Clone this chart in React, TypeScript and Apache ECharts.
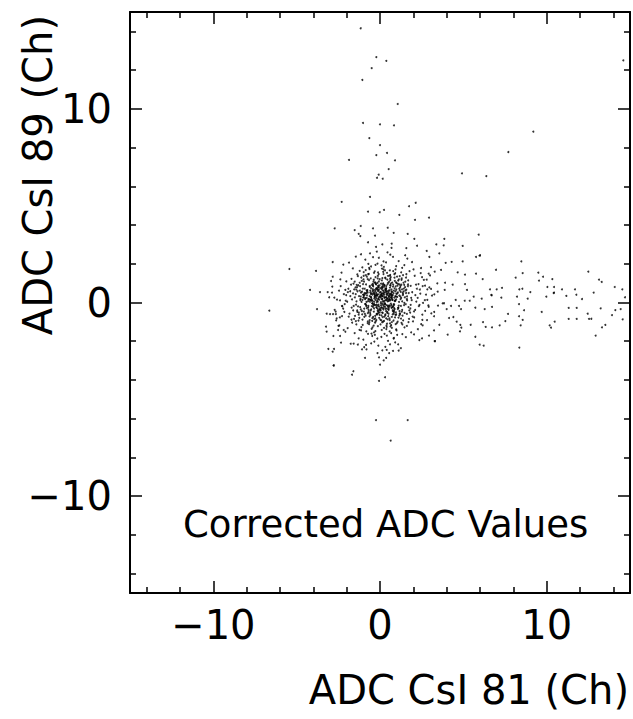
import React, { useEffect, useRef } from "react";
import * as echarts from "echarts";

const X_MAJOR = [-10, 0, 10];
const X_MINOR = [-14, -12, -8, -6, -4, -2, 2, 4, 6, 8, 12, 14];
const Y_MAJOR = [-10, 0, 10];
const Y_MINOR = [-14, -12, -8, -6, -4, -2, 2, 4, 6, 8, 12, 14];

const X_TITLE = "ADC CsI 81 (Ch)";
const Y_TITLE = "ADC CsI 89 (Ch)";
const NOTE = "Corrected ADC Values";

// dense core of events around the pedestal
const corePoints: [number, number][] = [
  [0.12,0.35],[-0.48,0.91],[0.77,-0.22],[-1.05,0.14],[0.31,1.28],[-0.19,-0.63],[1.42,0.57],[-0.66,-1.12],[0.05,0.02],[0.88,0.73],
  [-1.37,-0.41],[0.24,-0.95],[0.59,1.66],[-0.83,0.48],[1.11,-0.78],[-0.07,0.67],[0.43,0.21],[-1.74,0.92],[0.96,1.04],[-0.28,-1.48],
  [0.18,-0.12],[-0.55,0.29],[1.63,0.11],[-0.94,-0.74],[0.37,0.84],[-0.12,1.55],[0.71,-1.31],[-1.21,0.61],[0.02,-0.37],[1.29,1.17],
  [-0.36,0.04],[0.64,0.46],[-1.58,-0.18],[0.27,-1.62],[0.92,0.33],[-0.74,1.21],[2.04,-0.46],[-0.03,0.88],[0.51,-0.58],[-0.98,0.27],
  [0.33,0.64],[-0.21,-0.27],[1.08,0.96],[-1.46,0.43],[0.68,-0.13],[-0.62,-0.91],[0.09,1.92],[1.74,-0.85],[-0.44,0.58],[0.46,0.06],
  [-0.89,-0.08],[0.15,0.76],[0.83,-0.49],[-0.31,1.03],[1.37,0.38],[-1.12,-1.27],[0.58,1.39],[-0.05,-0.79],[2.21,0.71],[-0.67,0.19],
  [0.41,-0.31],[-1.83,-0.57],[0.22,0.49],[1.01,-1.06],[-0.41,0.83],[0.74,0.14],[-0.16,-1.86],[1.56,1.29],[-0.78,0.37],[0.07,0.41],
  [-0.24,0.72],[0.86,0.25],[-1.02,0.95],[0.49,-0.71],[1.25,-0.18],[-0.57,-0.42],[0.11,1.14],[-2.06,0.09],[0.63,0.87],[-0.13,-0.16],
  [0.97,-0.62],[-0.71,1.46],[0.28,-0.04],[1.53,0.62],[-1.29,-0.93],[0.55,0.32],[-0.38,-1.19],[0.04,0.55],[1.87,0.24],[-0.92,0.71],
  [0.21,1.71],[-0.47,-0.05],[0.69,0.67],[-1.16,0.31],[1.18,1.36],[-0.02,-0.51],[0.38,-1.37],[-0.79,-0.29],[2.37,-0.12],[0.14,0.18],
  [-0.58,0.52],[0.81,-0.93],[-0.27,1.31],[1.33,-0.38],[-1.41,0.06],[0.45,0.94],[-0.09,0.23],[0.73,-0.24],[-1.67,-1.04],[0.32,-0.66],
  [1.04,0.47],[-0.35,-0.86],[0.17,0.63],[-0.86,1.67],[1.61,-0.59],[-0.18,0.38],[0.54,1.07],[-1.27,-0.52],[0.92,0.09],[-0.51,-1.61],
  [0.06,0.97],[1.21,0.78],[-0.69,0.16],[0.36,-0.44],[-1.93,0.54],[0.67,-1.17],[-0.23,0.49],[1.46,-0.02],[-0.96,1.08],[0.27,0.28],
  [-0.14,-0.33],[0.61,1.23],[-1.07,-0.61],[0.93,0.58],[-0.46,0.11],[1.72,0.49],[0.13,-1.02],[-0.61,0.86],[0.47,-0.17],[-1.33,1.36],
  [0.85,-0.29],[-0.08,1.47],[1.14,0.03],[-0.73,-0.97],[0.26,0.41],[-1.51,0.26],[0.78,0.82],[-0.29,-0.69],[1.96,-0.73],[0.01,0.31],
  [-0.43,0.97],[0.39,0.13],[-1.19,-0.24],[1.28,0.92],[-0.65,1.79],[0.52,-0.38],[-0.17,0.09],[0.99,-1.44],[-0.83,-0.14],[0.19,1.58],
  [1.49,0.27],[-0.26,-0.98],[0.72,0.54],[-1.38,0.79],[0.08,-0.25],[0.91,1.51],[-0.53,-0.36],[1.16,-0.67],[-0.99,0.39],[0.34,0.71],
  [-0.04,0.15],[0.57,-0.82],[-0.76,0.64],[1.41,1.02],[-1.24,-0.79],[0.29,0.52],[-0.37,1.18],[0.66,0.26],[-2.21,-0.32],[0.82,-0.08],
  [0.16,-0.54],[-0.62,0.33],[1.09,-0.27],[-0.11,0.81],[0.48,1.37],[-0.97,-0.47],[1.67,0.84],[0.23,-0.19],[-0.45,-1.28],[0.76,0.39],
  [-1.09,1.12],[0.42,-1.09],[-0.33,0.45],[1.23,0.17],[-0.7,-0.18],[0.1,0.69],[0.95,-0.51],[-1.55,0.68],[0.61,1.42],[-0.2,-0.59],
  [0.35,0.12],[-0.86,-0.68],[1.32,0.68],[-0.15,1.01],[0.71,-0.74],[-1.44,-0.11],[0.47,0.46],[-0.54,0.74],[1.82,-0.31],[0.03,-1.13],
  [-0.31,0.28],[0.89,1.12],[-1.01,0.41],[0.2,-0.36],[1.06,-0.99],[-0.67,1.48],[0.56,0.18],[-0.1,-0.45],[1.38,0.44],[-1.78,0.33],
  [0.65,-0.06],[-0.4,0.62],[0.14,1.26],[1.17,-0.44],[-0.88,0.22],[0.37,-0.82],[-0.25,0.96],[0.83,0.61],[-1.23,-1.41],[0.5,0.35],
  [-0.06,-0.21],[1.03,0.29],[-0.59,-0.55],[0.25,0.91],[-1.31,0.89],[0.76,-0.61],[-0.19,0.34],[1.52,1.08],[-0.81,0.03],[0.4,-1.26],
  [0.94,0.83],[-0.52,0.18],[0.09,-0.67],[-1.12,1.29],[0.68,0.24],[-0.34,-0.13],[1.26,-0.83],[-0.74,0.51],[0.3,1.66],[1.9,0.12],
  [-0.28,-0.82],[0.51,0.53],[-0.95,-0.32],[1.15,0.71],[-0.08,0.42],[0.63,-1.23],[-1.62,0.47],[0.17,0.07],[0.87,1.28],[-0.42,-0.23],
  [0.27,0.89],[-0.77,0.57],[1.44,-0.14],[-0.16,-0.57],[0.59,0.38],[-1.05,-0.88],[0.98,0.44],[-0.32,1.61],[0.12,-0.28],[-1.68,0.16],
  [0.73,1.03],[-0.23,0.22],[1.19,-0.56],[-0.64,-1.02],[0.35,0.73],[-0.02,1.21],[0.8,-0.18],[-1.35,0.58],[1.58,0.66],[-0.49,0.08],
  [0.04,-0.41],[-0.84,0.93],[0.46,0.19],[1.35,-0.68],[-0.41,-0.74],[0.21,1.47],[-1.18,0.12],[0.9,0.11],[-0.12,0.59],[0.58,-0.91],
  [-0.69,-0.38],[1.13,1.19],[0.31,-0.09],[-0.93,0.49],[0.7,0.56],[-0.3,-1.04],[1.71,-0.24],[-1.5,-0.69],[0.15,0.84],[0.44,-0.48],
  [-0.18,0.66],[0.97,0.16],[-0.56,1.25],[0.32,-0.61],[-1.26,0.33],[1.07,-0.34],[0.05,0.25],[-0.71,-0.26],[0.62,1.16],[1.45,0.91],
  [-0.37,-0.47],[0.18,0.44],[-1.47,0.78],[0.84,-0.42],[-0.13,1.37],[0.53,0.27],[-0.87,-0.07],[1.24,0.55],[0.02,-0.89],[-0.55,0.43],
  [0.69,0.32],[-0.09,-0.11],[1.02,1.34],[-1.15,-0.36],[0.39,-1.18],[-0.44,0.69],[1.61,0.18],[-0.27,0.13],[0.76,-0.39],[-0.99,1.19],
  [0.22,0.59],[-0.63,-0.72],[0.88,0.07],[-0.24,0.93],[1.31,-0.47],[-1.7,-0.26],[0.48,1.01],[-0.05,-0.38],[0.58,0.63],[-0.8,0.24],
  [1.16,0.36],[-0.39,1.09],[0.26,-0.73],[-1.03,0.72],[0.79,0.92],[-0.21,-0.24],[1.47,-0.54],[-0.6,0.14],[0.11,0.48],[0.94,-1.12],
  [-0.47,-0.95],[0.6,0.77],[-1.22,1.02],[0.03,0.36],[1.12,-0.16],[-0.35,0.51],[0.43,-0.53],[-0.91,-0.59],[1.68,0.93],[-0.14,1.24],
  [0.3,-0.23],[-0.72,0.07],[0.86,1.46],[-1.36,-0.48],[0.55,0.15],[-0.07,0.78],[1.27,0.24],[-0.5,-1.36],[0.17,0.93],[-1.08,0.56],
  [0.78,-0.46],[-0.29,0.37],[1.5,0.79],[-0.82,-0.19],[0.08,-0.92],[0.67,0.43],[-1.52,1.08],[0.4,-0.14],[-0.12,0.17],[1.0,1.0],
  [-0.62,0.81],[0.24,-1.31],[1.07,0.52],[-0.45,-0.04],[0.64,1.31],[-1.17,0.19],[0.35,0.26],[-0.03,-0.64],[1.39,-0.92],[-0.85,1.41],
  [0.49,0.08],[-0.17,0.42],[0.93,-0.64],[-1.28,-0.63],[0.19,0.99],[1.22,0.31],[-0.53,0.26],[0.71,-1.01],[-0.36,1.53],[0.06,-0.06],
  [1.54,-0.09],[-0.94,0.38],[0.37,0.71],[-0.22,-0.91],[0.81,0.48],[-1.61,-0.41],[0.12,0.32],[1.09,1.13],[-0.68,-0.49],[0.53,-0.27],
  [-0.11,0.87],[0.74,0.35],[-1.04,-1.16],[0.44,1.18],[1.33,0.06],[-0.58,0.61],[0.0,-0.3],[0.9,-0.77],[-1.4,0.91],[0.28,0.1],
  [-0.26,-0.14],[1.19,0.63],[-0.79,1.33],[0.59,-0.19],[-0.33,0.4],[1.76,-0.41],[0.16,-0.76],[-1.11,0.03],[0.65,0.98],[-0.46,-0.81],
  [0.38,0.53],[-0.9,0.17],[1.29,-1.05],[-0.07,1.09],[0.72,0.23],[-1.45,-0.96],[0.5,-0.34],[-0.19,0.76],[1.05,0.87],[2.12,0.38],
  [-0.52,0.47],[0.13,-0.52],[0.96,0.3],[-1.2,0.84],[0.42,1.53],[-0.36,-0.31],[1.36,0.51],[-0.74,-1.07],[0.23,0.04],[0.82,-0.58],
  [-0.01,0.52],[-1.32,-0.2],[0.61,0.9],[-0.58,-0.64],[1.1,-0.28],[0.33,1.24],[-0.87,0.46],[0.19,-0.99],[1.62,0.32],[-0.3,0.65],
  [0.55,-0.15],[-0.66,1.16],[1.23,0.86],[-0.14,-0.43],[0.4,0.39],[-1.09,-0.44],[0.85,-0.11],[-0.42,0.89],[0.1,-1.42],[1.43,0.72],
  [-0.8,0.63],[0.27,0.24],[-1.56,-0.85],[0.98,0.67],[-0.2,0.02],[0.6,-1.08],[-0.98,1.38],[0.36,0.6],[1.2,-0.6],[-0.4,-0.12],
  [0.11,0.79],[0.88,-0.34],[-0.61,0.04],[1.56,0.49],[-1.14,0.51],[0.46,-0.87],[-0.28,1.03],[0.75,0.13],[-0.09,-0.53],[1.3,1.24],
  [-0.73,-0.55],[0.32,0.68],[-1.0,0.27],[0.69,-0.28],[-0.32,0.3],[1.17,0.94],[0.06,-0.15],[-1.42,0.66],[0.57,0.45],[-0.13,-1.22],
  [1.84,-0.12],[-1.22,1.63],[0.67,-1.58],[-0.15,2.01],[1.38,1.41],[-1.88,-0.73],[2.26,0.24],[-0.47,-1.73],[0.93,1.71],[-1.59,0.97],
  [1.61,-1.21],[-0.82,-1.49],[0.23,1.84],[2.05,-0.77],[-1.36,1.45],[0.41,-1.71],[-2.03,0.38],[1.27,1.56],[-0.36,-1.54],[1.93,0.53],
  [-1.14,-1.44],[0.79,1.62],[-2.14,-0.49],[1.47,-1.28],[-0.63,1.72],[2.33,-0.19],[0.08,-1.78],[-1.71,1.22],[1.03,-1.67],[-0.27,1.94],
  [1.69,1.14],[-1.97,0.04],[0.58,-1.49],[-0.98,1.57],[2.42,0.46],[-1.42,-1.13],[0.36,2.07],[1.81,-0.52],[-0.72,-1.62],[0.12,1.75],
  [-1.79,0.58],[1.34,-1.13],[-0.31,-1.67],[2.16,0.92],[-1.06,1.81],[0.83,-1.83],[-2.28,-0.17],[1.58,1.46],[-0.54,1.86],[0.97,-1.39],
  [0.44,0.57],[-0.34,0.21],[0.21,-0.29],[-0.16,0.71],[0.63,0.14],[-0.49,-0.19],[0.08,0.43],[0.29,-0.08],[-0.24,0.36],[0.52,0.62],
  [-0.05,0.29],[0.37,0.27],[-0.41,0.47],[0.15,-0.05],[0.24,0.81],[-0.13,0.05],[0.49,-0.21],[-0.28,0.57],[0.11,0.18],[0.67,0.38],
  [-0.57,0.14],[0.33,-0.33],[-0.09,0.62],[0.58,0.09],[-0.36,-0.07],[0.04,0.74],[0.41,0.44],[-0.21,-0.11],[0.18,0.33],[-0.45,0.41],
];

// halo around the core
const ringPoints: [number, number][] = [
  [2.31,0.95],[-2.17,0.43],[1.87,-1.54],[-1.94,-1.32],[0.62,2.47],[-0.88,2.21],[2.54,-0.63],[-2.58,0.15],[1.46,1.93],[0.32,-2.29],
  [-1.63,1.76],[2.76,0.41],[-0.53,-2.11],[1.12,2.14],[-2.41,-0.77],[2.08,1.38],[0.91,-2.06],[-1.28,-1.85],[2.92,-0.22],[-0.19,2.63],
  [1.77,1.62],[-2.02,1.09],[2.47,-1.12],[-0.95,-2.31],[0.14,-2.47],[-2.72,-0.38],[1.55,-1.79],[2.18,0.05],[-1.86,2.06],[0.78,2.36],
  [-2.31,1.54],[2.63,1.17],[0.48,-1.98],[-1.52,-1.58],[1.98,-0.97],[-0.42,2.34],[2.39,0.67],[-2.86,0.82],[1.25,-2.36],[-1.0,-1.92],
  [2.11,-0.38],[-1.71,-0.89],[0.97,1.88],[-0.7,1.99],[2.82,-0.91],[-2.49,-1.21],[1.64,2.27],[0.21,2.12],[-1.45,2.37],[3.12,0.36],
  [2.01,1.71],[-2.12,-0.08],[1.34,-1.63],[-0.34,-2.02],[2.69,0.12],[-1.9,0.71],[0.55,-2.61],[1.84,0.86],[-2.65,-0.6],[2.27,-1.38],
  [-0.6,2.54],[1.09,-2.16],[2.44,1.52],[-3.05,0.27],[0.82,-1.86],[-1.33,-2.17],[3.25,-0.49],[-2.2,1.96],[1.71,-1.01],[0.45,2.59],
  [2.52,1.31],[-2.46,0.61],[1.12,-2.48],[-1.58,-2.12],[2.71,-0.43],[-0.15,-2.61],[1.92,2.09],[-2.63,-0.92],[0.69,2.82],[2.04,-1.65],
  [-2.38,1.19],[1.51,2.44],[-0.81,-2.42],[2.96,0.78],[-1.14,2.49],[0.37,-2.86],[2.58,-0.02],[-2.08,-1.51],[1.33,1.79],[-0.07,2.31],
];

// vertical streak and scattered upper events
const upperPoints: [number, number][] = [
  [-1.16,14.16],[-0.22,12.67],[0.38,12.48],[-0.5,12.1],[-1.06,11.49],[1.06,10.25],[-1.02,9.27],[0,9.2],[0.84,9.15],[-0.64,8.49],
  [0,8.13],[-0.22,7.61],[0.42,7.72],[-1.86,7.36],[0.9,7.34],[0.52,6.89],[-0.08,6.6],[-0.18,6.44],[0.16,6.39],[4.92,6.67],
  [6.38,6.53],[-0.6,5.45],[9.2,8.82],[7.7,7.77],[14.6,12.5],
  [-2.3,5.2],[1.74,4.97],[2.14,5.15],[-0.72,4.69],[-0.02,4.66],[0.24,4.78],[1.16,4.52],[2.1,4.27],[2.94,4.38],[-2.72,3.83],
  [-1.16,3.95],[-1.52,3.74],[-0.42,3.83],[0.46,3.86],[-1.28,3.54],[-1.18,3.43],[-0.3,3.45],[0.82,3.6],[1.66,3.54],[2.06,3.29],
  [-0.72,3.11],[0.14,3.0],[0.7,3.04],[-0.24,2.87],[1.58,2.81],[2.22,2.93],
];

// events on the negative-x side
const leftPoints: [number, number][] = [
  [-5.44,1.73],[-6.64,-0.42],[-4.2,0.65],[-3.84,1.63],[-3.6,0.54],[-3.14,0.54],[-3.78,-0.34],[-2.84,2.09],[-3.24,-1.25],[-3.2,-1.5],
  [-3.1,-2.4],[-2.84,-2.54],[-2.78,-3.26],[-2.76,-2.4],[-2.34,-2.07],[-2.8,-1.73],[-2.4,-1.73],[-2.84,1.33],[-2.94,1.11],[-2.36,0.85],
  [-2.08,0.65],[-2.88,0.51],[-2.74,0.25],[-2.4,0.11],[-2.26,-0.2],[-2.66,-0.47],[-3.2,-0.58],[-3.0,-0.6],[-2.82,-0.6],[-2.6,-0.82],
  [-2.44,-1.18],[-2.28,-0.7],[-2.52,-1.42],[-2.18,-1.42],
];

// events below the core
const lowerPoints: [number, number][] = [
  [-0.24,-6.07],[1.66,-6.07],[0.64,-7.13],[-0.06,-4.05],[0.3,-3.86],[-1.6,-3.55],[-1.68,-3.73],[-2.78,-3.24],[0,-3.21],[0.22,-2.99],
  [-0.9,-2.86],[-0.06,-2.83],[-1.08,-2.42],[0.4,-2.45],[0.78,-2.5],[-1.76,-2.13],[-0.84,-2.19],[-0.1,-2.23],[0.6,-2.16],[2.36,-1.94],
  [3.3,-1.99],
];

// horizontal tail towards large ADC 81
const tailPoints: [number, number][] = [
  [5.92,3.5],[3.38,3.0],[3.86,3.29],[3.82,2.95],[4.96,2.92],[2.8,2.66],[3.56,2.54],[2.96,2.35],[5.76,2.35],[5.98,2.42],
  [3.94,2.05],[4.3,2.1],[4.96,2.12],[8.48,2.12],[2.46,1.78],[3.06,1.83],[3.28,1.59],[3.66,1.68],[4.66,1.56],[6.96,1.69],
  [5.1,1.44],[5.76,1.49],[8.56,1.52],[9.5,1.54],[9.78,1.33],[9.54,1.13],[10.34,1.21],[8.14,1.28],[6.16,1.21],[2.92,1.49],
  [3.0,1.4],[2.8,1.18],[3.44,0.99],[3.9,1.02],[4.36,0.92],[5.1,0.95],[10.04,0.8],[10.44,0.8],[2.56,0.85],[2.7,0.87],
  [2.84,0.68],[3.06,0.7],[3.26,0.42],[3.46,0.56],[3.88,0.65],[5.22,0.65],[6.6,0.68],[7.0,0.68],[7.32,0.76],[8.36,0.68],
  [8.54,0.71],[9.02,0.54],[10.42,0.49],[6.68,0.39],[8.22,0.3],[7.28,0.25],[6.1,0.2],[5.62,0.3],[5.38,0.09],[5.08,0.09],
  [4.54,0.13],[8.86,0.2],[9.98,0.3],[2.84,0.14],[3.76,-0.04],[3.84,-0.04],[3.48,-0.16],[2.9,-0.15],[4.26,-0.18],[4.74,-0.18],
  [4.86,-0.34],[4.0,-0.34],[5.72,-0.27],[6.28,-0.34],[6.72,-0.23],[8.34,-0.08],[8.64,-0.4],[9.7,-0.49],[3.08,-0.56],[3.24,-0.71],
  [4.4,-0.75],[4.14,-0.8],[7.68,-0.59],[8.34,-0.71],[7.52,-0.96],[2.54,-0.9],[4.6,-0.99],[6.18,-1.01],[5.44,-1.15],[4.82,-1.16],
  [4.88,-1.3],[2.56,-1.18],[3.56,-1.15],[6.34,-1.26],[6.72,-1.28],[7.18,-1.18],[8.44,-1.18],[10.18,-1.18],[10.26,-1.3],[10.48,-0.99],
  [3.24,-1.44],[4.8,-1.49],[4.06,-1.66],[2.94,-1.71],[2.52,-1.85],[5.72,-1.77],[3.28,-2.0],[5.98,-2.18],[6.22,-2.23],[8.36,-2.33],
  [6.0,2.44],[12.5,1.59],[13.14,1.18],[13.3,1.06],[10.92,0.68],[11.7,0.68],[10.44,0.51],[11.18,0.34],[11.78,0.4],[12.82,0.51],
  [12.12,0.18],[14.08,0.8],[14.54,0.68],[6.7,0.37],[11.32,-0.28],[11.8,-0.28],[12.46,-0.58],[13.24,-0.3],[14.12,-0.39],[14.7,0.27],
  [14.44,-0.34],[14.56,-0.87],[13.92,-0.65],[11.32,-0.85],[11.8,-0.85],[12.54,-0.85],[12.68,-0.84],[13.32,-1.28],[13.52,-1.16],[12.94,-1.71],
  [8.56,-0.9],
];

const FONT = "DejaVu Sans";
const fmt = (v: number) => (v < 0 ? "\u2212" + Math.abs(v) : String(v));

function xAxisDef(position: "bottom" | "top", major: boolean) {
  return {
    type: "value",
    position,
    min: -15,
    max: 15,
    axisLine: { show: major, onZero: false, lineStyle: { color: "#000", width: 2 } },
    axisTick: {
      show: true,
      inside: true,
      length: major ? 12 : 6,
      customValues: major ? X_MAJOR : X_MINOR,
      lineStyle: { color: "#000", width: 1.5 },
    },
    axisLabel: {
      show: major && position === "bottom",
      customValues: X_MAJOR,
      formatter: fmt,
      margin: 12,
      fontSize: 40,
      fontFamily: FONT,
      color: "#000",
    },
    splitLine: { show: false },
  };
}

function yAxisDef(position: "left" | "right", major: boolean) {
  return {
    type: "value",
    position,
    min: -15,
    max: 15,
    axisLine: { show: major, onZero: false, lineStyle: { color: "#000", width: 2 } },
    axisTick: {
      show: true,
      inside: true,
      length: major ? 12 : 6,
      customValues: major ? Y_MAJOR : Y_MINOR,
      lineStyle: { color: "#000", width: 1.5 },
    },
    axisLabel: {
      show: major && position === "left",
      customValues: Y_MAJOR,
      formatter: fmt,
      margin: 18,
      fontSize: 40,
      fontFamily: FONT,
      color: "#000",
    },
    splitLine: { show: false },
  };
}

export default function App() {
  const ref = useRef<HTMLDivElement>(null);
  useEffect(() => {
    if (!ref.current) return;
    const chart = echarts.init(ref.current, undefined, { renderer: "svg" });
    const all = [...corePoints, ...ringPoints, ...upperPoints, ...leftPoints, ...lowerPoints, ...tailPoints];
    chart.setOption({
      animation: false,
      backgroundColor: "#fff",
      grid: { left: 130, top: 12, width: 500, height: 581, containLabel: false },
      xAxis: [xAxisDef("bottom", true), xAxisDef("bottom", false), xAxisDef("top", true), xAxisDef("top", false)],
      yAxis: [yAxisDef("left", true), yAxisDef("left", false), yAxisDef("right", true), yAxisDef("right", false)],
      series: [
        {
          type: "scatter",
          xAxisIndex: 0,
          yAxisIndex: 0,
          data: all,
          symbol: "circle",
          symbolSize: 2,
          itemStyle: { color: "#000" },
          silent: true,
        },
      ],
      graphic: [
        {
          type: "text",
          x: 183,
          y: 524,
          style: { text: NOTE, fontSize: 37, fontFamily: FONT, fill: "#000", align: "left", verticalAlign: "middle" },
        },
        {
          type: "text",
          x: 629,
          y: 690,
          style: { text: X_TITLE, fontSize: 40, fontFamily: FONT, fill: "#000", align: "right", verticalAlign: "middle" },
        },
        {
          type: "text",
          x: 38,
          y: 15,
          rotation: Math.PI / 2,
          style: { text: Y_TITLE, fontSize: 40, fontFamily: FONT, fill: "#000", align: "right", verticalAlign: "middle" },
        },
      ],
    });
    return () => chart.dispose();
  }, []);
  return <div ref={ref} style={{ position: "fixed", left: 0, top: 0, width: 633, height: 719 }} />;
}
